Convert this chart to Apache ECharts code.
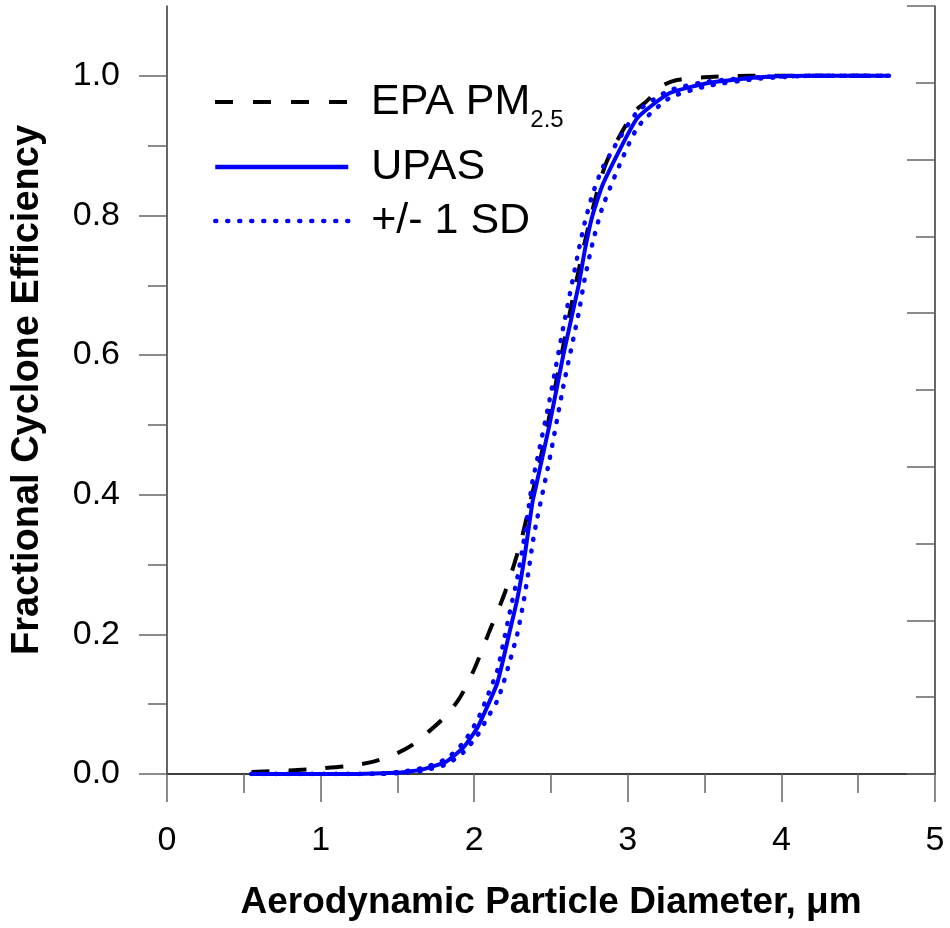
<!DOCTYPE html>
<html>
<head>
<meta charset="utf-8">
<script src="https://cdn.jsdelivr.net/npm/echarts@6/dist/echarts.min.js"></script>
<style>html,body{margin:0;padding:0;background:#fff}#c{width:950px;height:928px}</style>
</head>
<body>
<div id="c"></div>
<script>
// ---- data ----
const xTicks = [0, 1, 2, 3, 4, 5];
const yMajorTicks = [0, 0.2, 0.4, 0.6, 0.8, 1.0];
const yMinorTicks = [0.1, 0.3, 0.5, 0.7, 0.9];

const epaX = [0.55, 0.8, 1.0, 1.2, 1.35, 1.5, 1.6, 1.7, 1.8, 1.9, 2.0, 2.1, 2.2, 2.3, 2.36, 2.45, 2.55, 2.65, 2.75, 2.85, 2.95, 3.05, 3.12, 3.22, 3.32, 3.5, 3.8, 4.2, 4.7];
const epaY = [0.003, 0.005, 0.008, 0.012, 0.018, 0.03, 0.042, 0.06, 0.08, 0.107, 0.15, 0.205, 0.26, 0.33, 0.385, 0.47, 0.58, 0.69, 0.79, 0.87, 0.915, 0.95, 0.963, 0.985, 0.994, 0.998, 1.0, 1.0, 1.0];

const upasX = [0.55, 0.8, 1.0, 1.2, 1.4, 1.55, 1.67, 1.82, 1.93, 2.02, 2.08, 2.15, 2.19, 2.23, 2.28, 2.32, 2.35, 2.38, 2.40, 2.49, 2.58, 2.68, 2.72, 2.77, 2.84, 3.06, 3.27, 3.53, 3.86, 4.2, 4.7];
const upasY = [0.0, 0.0, 0.0, 0.0, 0.001, 0.003, 0.007, 0.018, 0.038, 0.066, 0.094, 0.13, 0.165, 0.203, 0.25, 0.3, 0.345, 0.39, 0.41, 0.5, 0.6, 0.7, 0.75, 0.8, 0.846, 0.939, 0.975, 0.99, 0.998, 1.0, 1.0];
const upasPlusY = [0.0, 0.0, 0.0, 0.0, 0.001, 0.004, 0.009, 0.022, 0.045, 0.077, 0.108, 0.148, 0.188, 0.23, 0.28, 0.33, 0.375, 0.42, 0.44, 0.535, 0.64, 0.75, 0.79, 0.83, 0.87, 0.948, 0.979, 0.992, 0.998, 1.0, 1.0];
const upasMinusY = [0.0, 0.0, 0.0, 0.0, 0.0, 0.002, 0.005, 0.014, 0.031, 0.055, 0.078, 0.105, 0.13, 0.16, 0.2, 0.245, 0.285, 0.33, 0.355, 0.45, 0.555, 0.66, 0.71, 0.76, 0.815, 0.925, 0.968, 0.986, 0.996, 1.0, 1.0];

const zip = (xs, ys) => xs.map((x, i) => [x, ys[i]]);

const FONT = '"Liberation Sans", Arial, Helvetica, sans-serif';
const AX = '#333';
const TK = '#666';
const BLUE = '#0000ff';

const chart = echarts.init(document.getElementById('c'), null, {renderer: 'canvas'});

const legendCommon = {
  orient: 'vertical', left: 213, padding: 0,
  itemWidth: 133, itemHeight: 14,
  itemStyle: {opacity: 0},
  textStyle: {fontFamily: FONT, fontSize: 43, color: '#000', lineHeight: 46, padding: [0, 0, 0, 18]}
};

chart.setOption({
  animation: false,
  backgroundColor: '#fff',
  grid: {left: 167, right: 15, top: 6, bottom: 154, containLabel: false},
  legend: [
    Object.assign({}, legendCommon, {
      top: 72, data: ['EPA PM2.5'],
      lineStyle: {color: '#000', width: 4, type: [18, 20]},
      formatter: () => '{m|EPA PM}{s|2.5}',
      textStyle: Object.assign({}, legendCommon.textStyle, {
        rich: {
          m: {fontFamily: FONT, fontSize: 43, color: '#000', lineHeight: 46},
          s: {fontFamily: FONT, fontSize: 24, color: '#000', lineHeight: 60, verticalAlign: 'bottom'}
        }
      })
    }),
    Object.assign({}, legendCommon, {top: 144, data: ['UPAS'],
      lineStyle: {color: BLUE, width: 4.5, type: 'solid'}}),
    Object.assign({}, legendCommon, {top: 198, data: ['+/- 1 SD'],
      lineStyle: {color: BLUE, width: 4.5, type: [1, 11], cap: 'round'}})
  ],
  xAxis: [
    {
      type: 'value', position: 'bottom', min: 0, max: 5, interval: 1,
      name: 'Aerodynamic Particle Diameter, μm', nameLocation: 'middle', nameGap: 110,
      nameTextStyle: {fontFamily: FONT, fontSize: 37, fontWeight: 'bold', color: '#000'},
      axisLine: {show: true, lineStyle: {color: AX, width: 1.5}},
      axisTick: {show: true, inside: false, length: 28, lineStyle: {color: TK, width: 1.5}},
      minorTick: {show: true, splitNumber: 2, length: 19, lineStyle: {color: TK, width: 1.5}},
      splitLine: {show: false},
      axisLabel: {show: true, fontFamily: FONT, fontSize: 34, color: '#000', margin: 50,
        customValues: xTicks}
    },
    {
      type: 'value', position: 'top', min: 0, max: 5, interval: 1,
      axisLine: {show: true, lineStyle: {color: AX, width: 1.5}},
      axisTick: {show: true, inside: true, length: 28, lineStyle: {color: TK, width: 1.5}},
      minorTick: {show: true, splitNumber: 2, length: 19, lineStyle: {color: TK, width: 1.5}},
      splitLine: {show: false},
      axisLabel: {show: false}
    }
  ],
  yAxis: [
    {
      type: 'value', position: 'left', min: 0, max: 1.1,
      name: 'Fractional Cyclone Efficiency', nameLocation: 'middle', nameGap: 120,
      nameTextStyle: {fontFamily: FONT, fontSize: 38, fontWeight: 'bold', color: '#000'},
      axisLine: {show: true, lineStyle: {color: AX, width: 1.5}},
      axisTick: {show: true, inside: false, length: 28, customValues: yMajorTicks, lineStyle: {color: TK, width: 1.5}},
      splitLine: {show: false},
      axisLabel: {show: true, fontFamily: FONT, fontSize: 34, color: '#000', margin: 47,
        customValues: yMajorTicks, formatter: v => v.toFixed(1)}
    },
    {
      type: 'value', position: 'left', min: 0, max: 1.1,
      axisLine: {show: false},
      axisTick: {show: true, inside: false, length: 19, customValues: yMinorTicks, lineStyle: {color: TK, width: 1.5}},
      splitLine: {show: false},
      axisLabel: {show: false}
    },
    {
      type: 'value', position: 'right', min: 0, max: 1, interval: 0.2,
      axisLine: {show: true, lineStyle: {color: AX, width: 1.5}},
      axisTick: {show: true, inside: true, length: 28, lineStyle: {color: TK, width: 1.5}},
      minorTick: {show: true, splitNumber: 2, length: 19, lineStyle: {color: TK, width: 1.5}},
      splitLine: {show: false},
      axisLabel: {show: false}
    }
  ],
  series: [
    {
      name: 'EPA PM2.5', type: 'line', xAxisIndex: 0, yAxisIndex: 0,
      data: zip(epaX, epaY), symbol: 'none', smooth: 0.3, z: 3,
      lineStyle: {color: '#000', width: 4, type: [18, 19]},
      itemStyle: {color: '#000'}
    },
    {
      name: '+/- 1 SD', type: 'line', xAxisIndex: 0, yAxisIndex: 0,
      data: zip(upasX, upasPlusY), symbol: 'none', smooth: 0.2, z: 4,
      lineStyle: {color: BLUE, width: 4.5, type: [1, 11], cap: 'round'},
      itemStyle: {color: BLUE}
    },
    {
      name: '+/- 1 SD', type: 'line', xAxisIndex: 0, yAxisIndex: 0,
      data: zip(upasX, upasMinusY), symbol: 'none', smooth: 0.2, z: 4,
      lineStyle: {color: BLUE, width: 4.5, type: [1, 11], cap: 'round'},
      itemStyle: {color: BLUE}
    },
    {
      name: 'UPAS', type: 'line', xAxisIndex: 0, yAxisIndex: 0,
      data: zip(upasX, upasY), symbol: 'none', smooth: 0.15, z: 5,
      lineStyle: {color: BLUE, width: 4},
      itemStyle: {color: BLUE}
    }
  ]
});
</script>
</body>
</html>
